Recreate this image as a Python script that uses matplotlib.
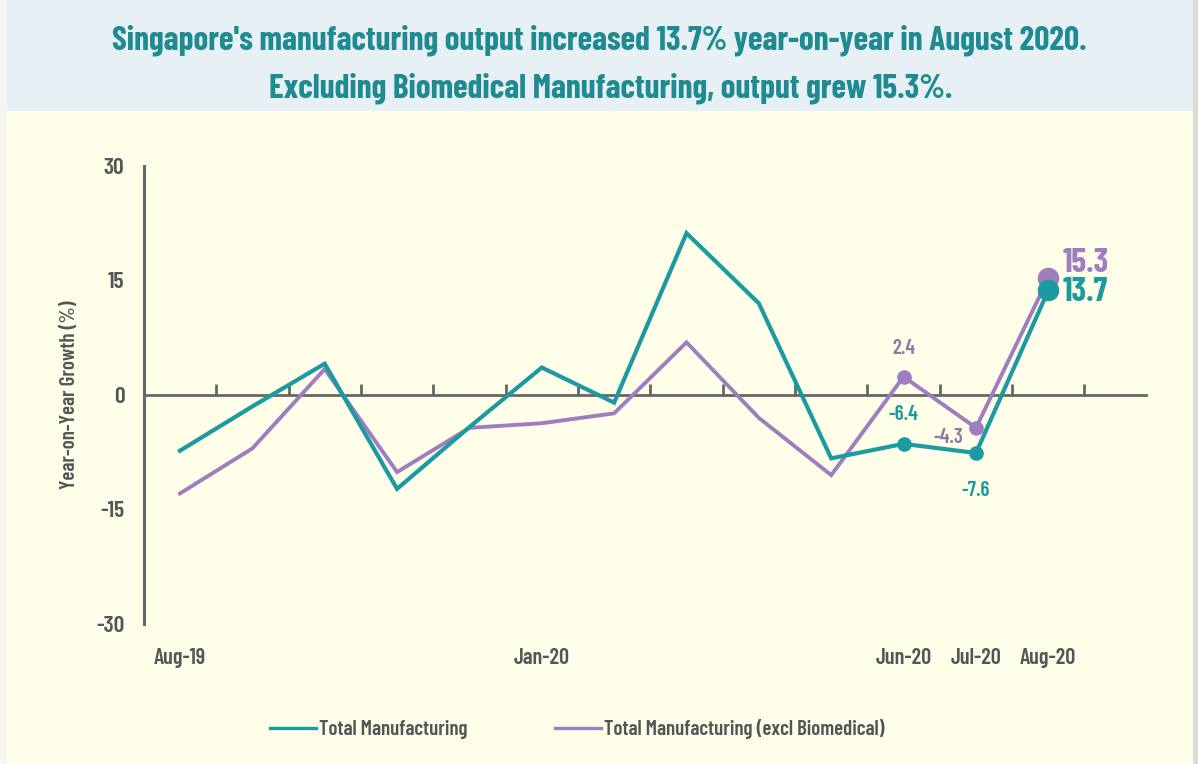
import matplotlib
matplotlib.use("Agg")
import matplotlib.pyplot as plt
from matplotlib.patches import Rectangle
import matplotlib.transforms as mtransforms

# ---------------- data ----------------
months = ["Aug-19", "Sep-19", "Oct-19", "Nov-19", "Dec-19", "Jan-20", "Feb-20",
          "Mar-20", "Apr-20", "May-20", "Jun-20", "Jul-20", "Aug-20"]
total_mfg = [-7.3, -1.5, 4.1, -12.3, -4.2, 3.6, -1.0, 21.2, 12.0, -8.3, -6.4, -7.6, 13.7]
excl_biomed = [-12.9, -7.0, 3.4, -10.1, -4.3, -3.7, -2.4, 6.9, -3.0, -10.5, 2.4, -4.3, 15.3]
shown_labels = ["Aug-19", "Jan-20", "Jun-20", "Jul-20", "Aug-20"]
yticks = [-30, -15, 0, 15, 30]

TEAL = "#1b9ba1"
PURPLE = "#a07cc0"
TITLE_C = "#1f8b91"
GREY = "#666666"
TXT = "#555555"
BG = "#fefee9"
BANNER = "#e6f0f5"

FONT = ["Barlow Condensed", "Roboto Condensed", "Asap Condensed", "Archivo Narrow", "DejaVu Sans"]
plt.rcParams["font.family"] = FONT

W, H = 1198, 764
fig = plt.figure(figsize=(W / 100, H / 100), dpi=100, facecolor=BG)
# title banner and thin page edges
fig.patches.append(Rectangle((0, 1 - 111 / H), 1, 111 / H, transform=fig.transFigure,
                             facecolor=BANNER, edgecolor="none", zorder=0))
fig.patches.append(Rectangle((0, 0), 7 / W, 1, transform=fig.transFigure,
                             facecolor="#f5f6f2", edgecolor="none", zorder=0))
fig.patches.append(Rectangle((1 - 5 / W, 0), 5 / W, 1, transform=fig.transFigure,
                             facecolor="#dcdcd6", edgecolor="none", zorder=0))
fig.text(0.5, 1 - 40 / H, "Singapore's manufacturing output increased 13.7% year-on-year in August 2020.",
         ha="center", va="center", fontsize=24, fontweight="bold", color=TITLE_C)
fig.text(0.51, 1 - 88 / H, "Excluding Biomedical Manufacturing, output grew 15.3%.",
         ha="center", va="center", fontsize=24, fontweight="bold", color=TITLE_C)

ax = fig.add_axes([143.8 / W, 1 - 624 / H, (1146 - 143.8) / W, (624 - 166) / H])
ax.set_facecolor("none")
x = list(range(len(months)))

ax.plot(x, excl_biomed, color=PURPLE, lw=2.8, solid_joinstyle="miter", zorder=3,
        label="Total Manufacturing (excl Biomedical)")
ax.plot(x, total_mfg, color=TEAL, lw=3.0, solid_joinstyle="miter", zorder=4,
        label="Total Manufacturing")

# markers at Jun, Jul (small) and Aug (large)
ax.plot(x[10:12], excl_biomed[10:12], "o", color=PURPLE, ms=9.5, zorder=3)
ax.plot(x[10:12], total_mfg[10:12], "o", color=TEAL, ms=9.5, zorder=4)
ax.plot(x[12:], excl_biomed[12:], "o", color=PURPLE, ms=14.5, zorder=3)
ax.plot(x[12:], total_mfg[12:], "o", color=TEAL, ms=14.5, zorder=4)

ax.set_xlim(-0.5, 13.35)
ax.set_ylim(-30, 30)

for s in ["top", "right"]:
    ax.spines[s].set_visible(False)
ax.spines["left"].set_color(GREY)
ax.spines["left"].set_linewidth(2.2)
ax.spines["bottom"].set_position(("data", 0))
ax.spines["bottom"].set_color(GREY)
ax.spines["bottom"].set_linewidth(2.0)

ax.set_yticks(yticks)
ax.set_yticklabels([str(v) for v in yticks])
ax.tick_params(axis="y", length=0, pad=14, labelsize=17, labelcolor=TXT)
for t in ax.get_yticklabels():
    t.set_fontweight("semibold")

ax.set_xticks([])
ax.set_xticks([i + 0.5 for i in x], minor=True)
ax.tick_params(axis="x", which="minor", direction="in", length=8, width=2, color=GREY)

trans = mtransforms.blended_transform_factory(ax.transData, ax.transAxes)
for lab in shown_labels:
    i = months.index(lab)
    ax.text(i, -0.075, lab, transform=trans, ha="center", va="center",
            fontsize=16, fontweight="semibold", color=TXT)

ax.set_ylabel("Year-on-Year Growth (%)", fontsize=15, color=TXT, fontweight="semibold", labelpad=12)

# data labels
LBL_P = "#8f79a8"
ax.annotate(f"{excl_biomed[10]:.1f}", (x[10], excl_biomed[10]), xytext=(0, 20),
            textcoords="offset points", ha="center", va="center", fontsize=15,
            color=LBL_P, fontweight="semibold")
ax.annotate(f"{total_mfg[10]:.1f}", (x[10], total_mfg[10]), xytext=(0, 21),
            textcoords="offset points", ha="center", va="center", fontsize=15,
            color=TEAL, fontweight="semibold")
ax.annotate(f"{excl_biomed[11]:.1f}", (x[11], excl_biomed[11]), xytext=(-20, -7),
            textcoords="offset points", ha="center", va="center", fontsize=15,
            color=LBL_P, fontweight="semibold")
ax.annotate(f"{total_mfg[11]:.1f}", (x[11], total_mfg[11]), xytext=(0, -27),
            textcoords="offset points", ha="center", va="center", fontsize=15,
            color=TEAL, fontweight="semibold")
ax.annotate(f"{excl_biomed[12]:.1f}", (x[12], excl_biomed[12]), xytext=(10, 11),
            textcoords="offset points", ha="left", va="center", fontsize=24,
            color=PURPLE, fontweight="bold")
ax.annotate(f"{total_mfg[12]:.1f}", (x[12], total_mfg[12]), xytext=(10, -1),
            textcoords="offset points", ha="left", va="center", fontsize=24,
            color=TEAL, fontweight="bold")

handles, labels = ax.get_legend_handles_labels()
leg = fig.legend(handles[::-1], labels[::-1], loc="center", bbox_to_anchor=(577 / W, 1 - 729 / H),
                 ncol=2, frameon=False, fontsize=15, handlelength=2.2, handletextpad=0.15,
                 columnspacing=4.2)
for t in leg.get_texts():
    t.set_color(TXT)
    t.set_fontweight("semibold")
for h in leg.legend_handles:
    h.set_linewidth(2.4)

fig.savefig("out.png", dpi=100, facecolor=BG)
